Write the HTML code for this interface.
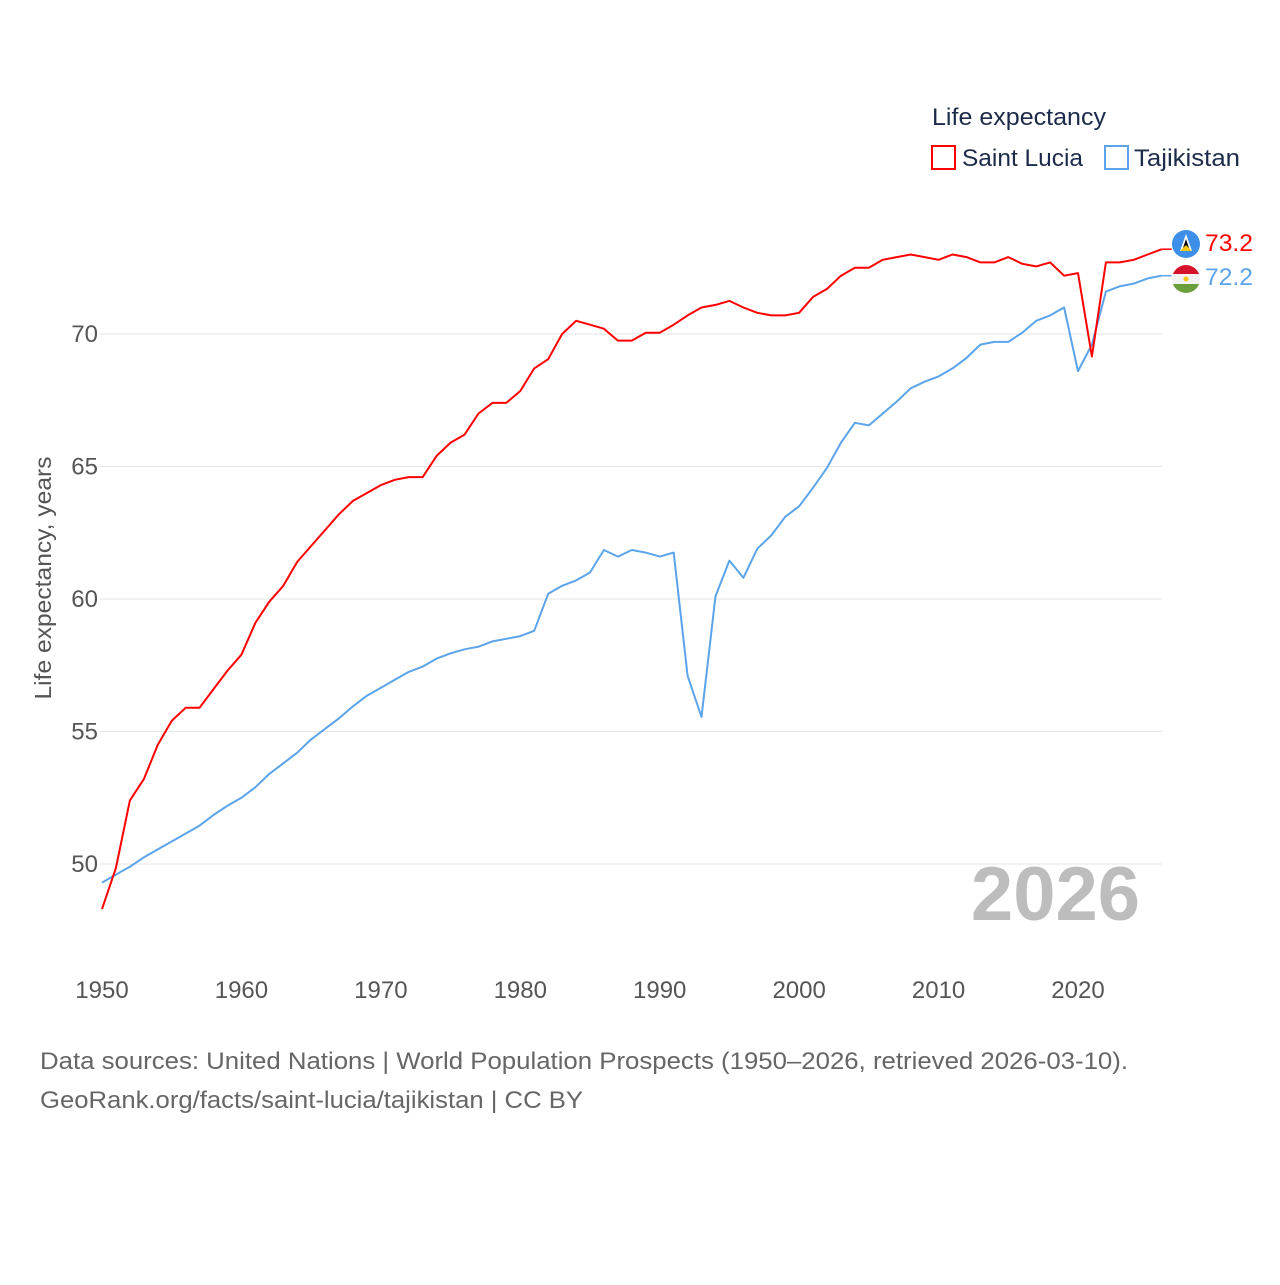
<!DOCTYPE html>
<html><head><meta charset="utf-8"><style>
body{margin:0;background:#fff;width:1280px;height:1280px;overflow:hidden;font-family:"Liberation Sans",sans-serif}
svg text{font-family:"Liberation Sans",sans-serif}
</style></head><body>
<svg id="chart" width="1280" height="1280" xmlns="http://www.w3.org/2000/svg">
<g id="grid"></g>
<g id="yticks"></g>
<g id="xticks"></g>
<text transform="translate(51,578) rotate(-90)" text-anchor="middle" font-size="23" fill="#555" textLength="243" lengthAdjust="spacingAndGlyphs">Life expectancy, years</text>
<text x="1140" y="920" text-anchor="end" font-size="76" font-weight="bold" fill="#bdbdbd">2026</text>
<g id="series"></g>
<g>
<text x="932" y="125" font-size="24" fill="#1d2b4a" textLength="174" lengthAdjust="spacingAndGlyphs">Life expectancy</text>
<g><rect x="932" y="146" width="23" height="23" fill="none" stroke="#f00" stroke-width="2"/><text x="962" y="166" font-size="24" fill="#1d2b4a" textLength="121" lengthAdjust="spacingAndGlyphs">Saint Lucia</text></g>
<g><rect x="1105" y="146" width="23" height="23" fill="none" stroke="#5ba4ea" stroke-width="2"/><text x="1134" y="166" font-size="24" fill="#1d2b4a" textLength="106" lengthAdjust="spacingAndGlyphs">Tajikistan</text></g>
</g>
<g><circle cx="1186" cy="244" r="14" fill="#3d8fe8"/><polygon points="1186,234 1192,251 1180,251" fill="#fff"/><polygon points="1186,239 1190,251 1182,251" fill="#000"/><polygon points="1186,245 1192,251 1180,251" fill="#f5c518"/></g>
<g><clipPath id="tc"><circle cx="1186" cy="279" r="14"/></clipPath><g clip-path="url(#tc)"><rect x="1172" y="265" width="28" height="9" fill="#d6132a"/><rect x="1172" y="274" width="28" height="10" fill="#f2f2f2"/><rect x="1172" y="284" width="28" height="10" fill="#6a9e3d"/></g><circle cx="1186" cy="279" r="2.5" fill="#f5c518"/></g>
<text x="1205" y="251" font-size="24" fill="#f00" textLength="48" lengthAdjust="spacingAndGlyphs">73.2</text>
<text x="1205" y="285" font-size="24" fill="#5ba4ea" textLength="48" lengthAdjust="spacingAndGlyphs">72.2</text>
<text x="40" y="1069" font-size="24" fill="#666" textLength="1088" lengthAdjust="spacingAndGlyphs">Data sources: United Nations | World Population Prospects (1950–2026, retrieved 2026-03-10).</text>
<text x="40" y="1108" font-size="24" fill="#666" textLength="543" lengthAdjust="spacingAndGlyphs">GeoRank.org/facts/saint-lucia/tajikistan | CC BY</text>
</svg>
<script>
const years=[];for(let y=1950;y<=2026;y++)years.push(y);
const saintLucia=[48.3,49.85,52.4,53.2,54.5,55.4,55.9,55.9,56.6,57.3,57.9,59.1,59.9,60.5,61.4,62.0,62.6,63.2,63.7,64.0,64.3,64.5,64.6,64.6,65.4,65.9,66.2,67.0,67.4,67.4,67.85,68.7,69.05,70.0,70.5,70.35,70.2,69.75,69.75,70.05,70.05,70.35,70.7,71.0,71.1,71.25,71.0,70.8,70.7,70.7,70.8,71.4,71.7,72.2,72.5,72.5,72.8,72.9,73.0,72.9,72.8,73.0,72.9,72.7,72.7,72.9,72.65,72.55,72.7,72.2,72.3,69.15,72.7,72.7,72.8,73.0,73.2];
const tajikistan=[49.3,49.6,49.9,50.25,50.55,50.85,51.15,51.45,51.85,52.2,52.5,52.9,53.4,53.8,54.2,54.7,55.1,55.5,55.95,56.35,56.65,56.95,57.25,57.45,57.75,57.95,58.1,58.2,58.4,58.5,58.6,58.8,60.2,60.5,60.7,61.0,61.85,61.6,61.85,61.75,61.6,61.75,57.1,55.55,60.1,61.45,60.8,61.9,62.4,63.1,63.5,64.2,64.95,65.9,66.65,66.55,67.0,67.45,67.95,68.2,68.4,68.7,69.1,69.6,69.7,69.7,70.05,70.5,70.7,71.0,68.6,69.6,71.6,71.8,71.9,72.1,72.2];
const yTicks=[50,55,60,65,70];
const xTicks=[1950,1960,1970,1980,1990,2000,2010,2020];
const X=y=>102+(y-1950)*(976/70);
const Y=v=>334-(v-70)*26.5;
const NS='http://www.w3.org/2000/svg';
function mk(t,a,p){const e=document.createElementNS(NS,t);for(const k in a)e.setAttribute(k,a[k]);p.appendChild(e);return e;}
const grid=document.getElementById('grid'),yt=document.getElementById('yticks'),xt=document.getElementById('xticks'),ser=document.getElementById('series');
yTicks.forEach(v=>{
 const l=mk('line',{x1:100,x2:1162,y1:Y(v),y2:Y(v),stroke:'#e6e6e6','stroke-width':1},grid);
 
 
 const t=mk('text',{x:98,y:Y(v)+8,'text-anchor':'end','font-size':24,fill:'#555'},yt);t.textContent=v;
 
 
});
xTicks.forEach(v=>{
 const t=mk('text',{x:X(v),y:998,'text-anchor':'middle','font-size':24,fill:'#555'},xt);t.textContent=v;
 
 
});
function line(vals,color,name){
 const d=vals.map((v,i)=>(i?'L':'M')+X(years[i]).toFixed(1)+','+Y(v).toFixed(1)).join('');
 const p=mk('path',{d:d,fill:'none',stroke:color,'stroke-width':2,'stroke-linejoin':'round'},ser);
 
 
}
line(tajikistan,'#5ba4ea','line-tajikistan');
line(saintLucia,'#f00','line-saint-lucia');
const c1=mk('path',{d:'M'+X(2026)+','+Y(saintLucia[76])+'h10',stroke:'#f00','stroke-width':1.5,fill:'none'},ser);


const c2=mk('path',{d:'M'+X(2026)+','+Y(tajikistan[76])+'h10',stroke:'#5ba4ea','stroke-width':1.5,fill:'none'},ser);


</script>
</body></html>
